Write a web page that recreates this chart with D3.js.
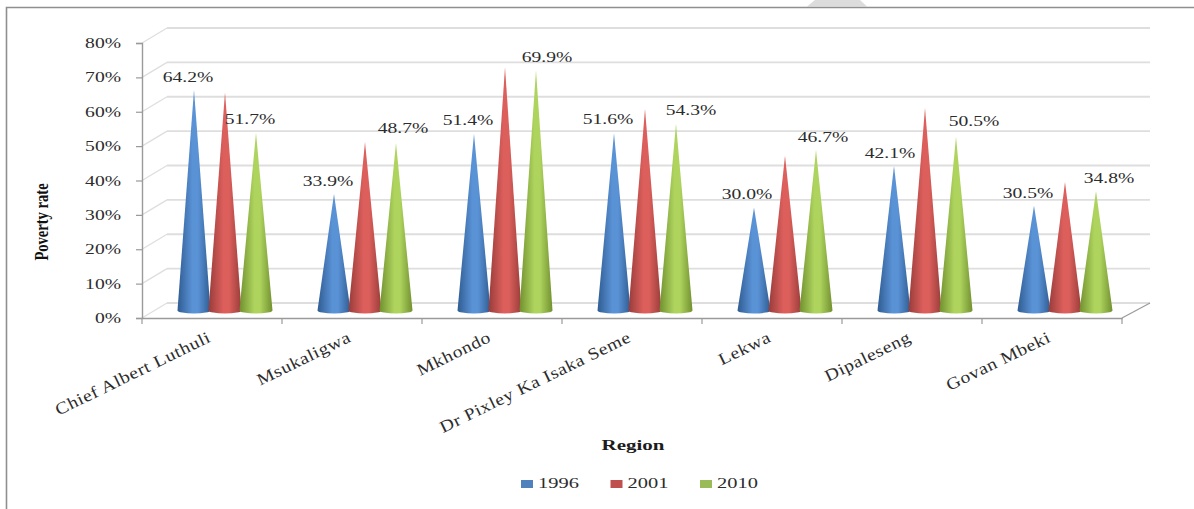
<!DOCTYPE html>
<html>
<head>
<meta charset="utf-8">
<script src="https://cdn.jsdelivr.net/npm/d3@7"></script>
<style>
  html, body { margin: 0; padding: 0; background: #fff; }
  svg { display: block; }
  text { font-family: "Liberation Serif", serif; fill: #2c2c2c; }
</style>
</head>
<body>
<svg id="chart" width="1194" height="509"></svg>
<script>
// Poverty rate by region, drawn as a 3D-style cone chart.
const regions = ["Chief Albert Luthuli", "Msukaligwa", "Mkhondo", "Dr Pixley Ka Isaka Seme", "Lekwa", "Dipaleseng", "Govan Mbeki"];
const years = ["1996", "2001", "2010"];
const rate1996 = [64.2, 33.9, 51.4, 51.6, 30.0, 42.1, 30.5];
const rate2001 = [63.5, 49.0, 70.8, 58.6, 45.0, 58.9, 37.3];
const rate2010 = [51.7, 48.7, 69.9, 54.3, 46.7, 50.5, 34.8];
const yTicks = [0, 10, 20, 30, 40, 50, 60, 70, 80];

// Hand placement of the value labels, relative to each cone tip: [dx, dy]
const labelNudge1996 = [[-6, -14], [-6, -14], [-6, -15], [-6, -15], [-7, -14], [-4, -14], [-6, -14]];
const labelNudge2010 = [[-6, -15], [7, -16], [11, -14], [15, -15], [7, -14], [18, -17], [13, -14]];

const rates = { "1996": rate1996, "2001": rate2001, "2010": rate2010 };
const palette = {
  "1996": { edge: "#2f5c92", mid: "#5a92d6", flat: "#4f81bd" },
  "2001": { edge: "#983c3a", mid: "#dc5f5c", flat: "#c0504d" },
  "2010": { edge: "#71902f", mid: "#aed45e", flat: "#9bbb59" }
};

const svg = d3.select("#chart");
const depthX = 27, depthY = 15;   // offset between the front axis and the back wall
const coneFloorY = 310.5, coneFloorDx = 13, coneRadius = 16.5, coneFootRy = 3;
const textStretch = 1.4;          // the lettering is set wide

const x = d3.scaleBand().domain(regions).range([142, 1122]);
const y = d3.scaleLinear().domain([0, 80]).range([318, 43]);
const inner = d3.scalePoint().domain(years).range([-31, 31]);

// Cone shading
const defs = svg.append("defs");
years.forEach(yr => {
  const g = defs.append("linearGradient").attr("id", "cone" + yr)
    .attr("x1", 0).attr("x2", 1).attr("y1", 0).attr("y2", 0);
  g.append("stop").attr("offset", "0%").attr("stop-color", palette[yr].edge);
  g.append("stop").attr("offset", "45%").attr("stop-color", palette[yr].mid);
  g.append("stop").attr("offset", "62%").attr("stop-color", palette[yr].mid);
  g.append("stop").attr("offset", "100%").attr("stop-color", palette[yr].edge);
});

// Page frame and the grey shape along the top edge
svg.append("path").attr("d", "M807,6.5 L815,0 L860,0 L867,6.5 Z").attr("fill", "#dcdcdc");
svg.append("path").attr("d", "M6.5,509 L6.5,7.5 L1194,7.5").attr("fill", "none").attr("stroke", "#8f8f8f").attr("stroke-width", 1.6);

// Back wall gridlines, side wall slants and floor
const grid = svg.append("g");
yTicks.forEach(t => {
  grid.append("line")
    .attr("x1", 142 + depthX - 2).attr("x2", 1150)
    .attr("y1", y(t) - depthY).attr("y2", y(t) - depthY)
    .attr("stroke", "#dedede").attr("stroke-width", 1.8);
  grid.append("line")
    .attr("x1", 142).attr("x2", 142 + depthX - 2)
    .attr("y1", y(t)).attr("y2", y(t) - depthY)
    .attr("stroke", "#dedede").attr("stroke-width", 1.3);
});
grid.append("line")
  .attr("x1", 1122).attr("x2", 1150)
  .attr("y1", y(0)).attr("y2", y(0) - depthY)
  .attr("stroke", "#9a9a9a").attr("stroke-width", 1.2);

// Value axis
const yAxis = svg.append("g").attr("transform", "translate(142,0)")
  .call(d3.axisLeft(y).tickValues(yTicks).tickSize(6).tickFormat(d => d + "%"));
yAxis.select(".domain").attr("stroke", "#9a9a9a").attr("stroke-width", 1.4);
yAxis.selectAll(".tick line").attr("stroke", "#9a9a9a").attr("stroke-width", 1.2);
yAxis.selectAll(".tick text").remove();
yTicks.forEach(t => {
  svg.append("text")
    .attr("transform", `translate(121,${y(t) + 5}) scale(${textStretch},1)`)
    .attr("text-anchor", "end")
    .attr("font-size", 14)
    .text(t + "%");
});

// Category axis
const xAxis = svg.append("g").attr("transform", `translate(0,${y(0)})`)
  .call(d3.axisBottom(x).tickSize(0).tickFormat(""));
xAxis.select(".domain").attr("stroke", "#9a9a9a").attr("stroke-width", 1.4);
xAxis.selectAll(".tick").remove();
regions.concat([null]).forEach(r => {
  const tx = r === null ? x.range()[1] : x(r);
  svg.append("line")
    .attr("x1", tx).attr("x2", tx).attr("y1", y(0)).attr("y2", y(0) + 6)
    .attr("stroke", "#9a9a9a").attr("stroke-width", 1.2);
});

regions.forEach(r => {
  const cx = x(r) + x.bandwidth() / 2;
  svg.append("text")
    .attr("transform", `translate(${cx},${y(0) + 23}) rotate(-26) scale(1.26,1.08)`)
    .attr("text-anchor", "end")
    .attr("font-size", 15.5)
    .attr("letter-spacing", 0.45)
    .text(r);
});

// Cones: the height above the floor uses the value axis scale
const conePath = (cx, tipY) =>
  `M${cx - coneRadius},${coneFloorY} L${cx},${tipY} L${cx + coneRadius},${coneFloorY} ` +
  `A${coneRadius},${coneFootRy} 0 0 1 ${cx - coneRadius},${coneFloorY} Z`;

const tipX = (r, yr) => x(r) + x.bandwidth() / 2 + coneFloorDx + inner(yr);
const tipY = v => coneFloorY - (y(0) - y(v));

years.forEach(yr => {
  svg.append("g").selectAll("path")
    .data(regions.map((r, i) => ({ r, v: rates[yr][i] })))
    .join("path")
    .attr("d", d => conePath(tipX(d.r, yr), tipY(d.v)))
    .attr("fill", `url(#cone${yr})`);
});

// Value labels (1996 and 2010 only)
const placeLabels = (yr, nudges) => {
  regions.forEach((r, i) => {
    const v = rates[yr][i];
    svg.append("text")
      .attr("transform", `translate(${tipX(r, yr) + nudges[i][0]},${tipY(v) + nudges[i][1] + 6}) scale(${textStretch},1)`)
      .attr("text-anchor", "middle")
      .attr("font-size", 14)
      .text(v.toFixed(1) + "%");
  });
};
placeLabels("1996", labelNudge1996);
placeLabels("2010", labelNudge2010);

// Axis titles
svg.append("text")
  .attr("transform", "translate(47.5,222) rotate(-90) scale(1.08,1.4)")
  .attr("text-anchor", "middle")
  .attr("font-size", 13.5).attr("font-weight", "bold").style("fill", "#111")
  .text("Poverty rate");
svg.append("text")
  .attr("transform", `translate(633,450) scale(1.5,1.05)`)
  .attr("text-anchor", "middle")
  .attr("font-size", 14).attr("font-weight", "bold").style("fill", "#1c1c1c")
  .text("Region");

// Legend
const legendX = d3.scalePoint().domain(years).range([521, 700]);
years.forEach(yr => {
  svg.append("rect")
    .attr("x", legendX(yr)).attr("y", 480)
    .attr("width", 12).attr("height", 8)
    .attr("fill", palette[yr].flat);
  svg.append("text")
    .attr("transform", `translate(${legendX(yr) + 17},488) scale(1.46,1)`)
    .attr("font-size", 14)
    .text(yr);
});
</script>
</body>
</html>
